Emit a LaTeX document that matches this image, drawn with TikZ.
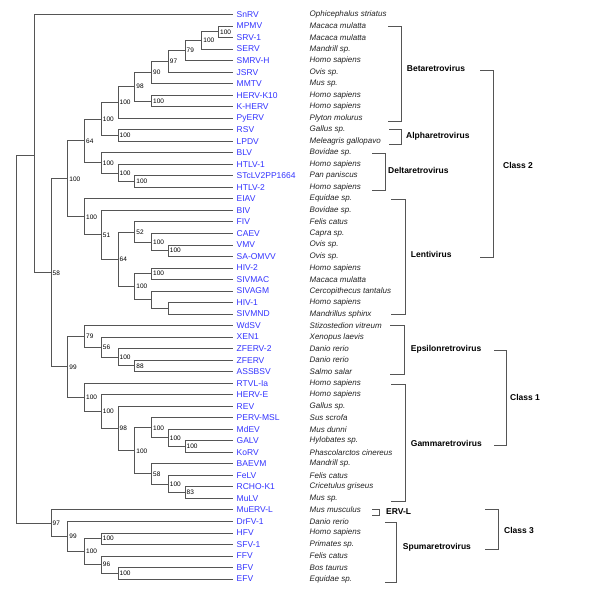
\documentclass[tikz,border=0pt]{standalone}
\usepackage{fontspec}
\setmainfont{Liberation Sans}
\definecolor{nameblue}{HTML}{3333FF}
\definecolor{treegrey}{HTML}{555555}
\definecolor{spgrey}{HTML}{222222}
\tikzset{
  edge/.style={draw=treegrey, line width=0.8pt},
  brk/.style={draw=treegrey, line width=0.8pt},
  boot/.style={anchor=west, inner sep=0pt, xshift=1.5pt, font=\fontsize{6.5}{7}\selectfont, text=black},
  lname/.style={anchor=west, inner sep=0pt, font=\fontsize{8.5}{9}\selectfont, text=nameblue},
  spec/.style={anchor=west, inner sep=0pt, font=\fontsize{8}{9}\selectfont\itshape, text=spgrey},
  grp/.style={anchor=west, inner sep=0pt, font=\fontsize{8.5}{10}\selectfont\bfseries, text=black}
}
\newcommand\IN[4]{\coordinate (#1) at ({17.5+16.75*#2},{14.5+11.52*#3}); \node[boot] (#1-b) at (#1) {#4};}
\newcommand\INn[3]{\coordinate (#1) at ({17.5+16.75*#2},{14.5+11.52*#3});}
\newcommand\LF[4]{\coordinate (#1) at (233,{14.5+11.52*#2}); \node[lname] (#1-n) at (236.5,{14.5+11.52*#2}) {#3}; \node[spec] (#1-s) at (309.5,{14.5+11.52*#2}) {#4};}
\newcommand\EG[2]{\draw[edge] (#1) |- (#2);}
\newcommand\BRK[4]{\draw[brk] (#1,#3) -- (#2,#3) -- (#2,#4) -- (#1,#4);}
\begin{document}
\begin{tikzpicture}[x=1pt,y=-1pt]
\useasboundingbox (0,0) rectangle (594,600);
% leaves
\LF{l0}{0}{SnRV}{Ophicephalus striatus}
\LF{l1}{1}{MPMV}{Macaca mulatta}
\LF{l2}{2}{SRV-1}{Macaca mulatta}
\LF{l3}{3}{SERV}{Mandrill sp.}
\LF{l4}{4}{SMRV-H}{Homo sapiens}
\LF{l5}{5}{JSRV}{Ovis sp.}
\LF{l6}{6}{MMTV}{Mus sp.}
\LF{l7}{7}{HERV-K10}{Homo sapiens}
\LF{l8}{8}{K-HERV}{Homo sapiens}
\LF{l9}{9}{PyERV}{Plyton molurus}
\LF{l10}{10}{RSV}{Gallus sp.}
\LF{l11}{11}{LPDV}{Meleagris gallopavo}
\LF{l12}{12}{BLV}{Bovidae sp.}
\LF{l13}{13}{HTLV-1}{Homo sapiens}
\LF{l14}{14}{STcLV2PP1664}{Pan paniscus}
\LF{l15}{15}{HTLV-2}{Homo sapiens}
\LF{l16}{16}{EIAV}{Equidae sp.}
\LF{l17}{17}{BIV}{Bovidae sp.}
\LF{l18}{18}{FIV}{Felis catus}
\LF{l19}{19}{CAEV}{Capra sp.}
\LF{l20}{20}{VMV}{Ovis sp.}
\LF{l21}{21}{SA-OMVV}{Ovis sp.}
\LF{l22}{22}{HIV-2}{Homo sapiens}
\LF{l23}{23}{SIVMAC}{Macaca mulatta}
\LF{l24}{24}{SIVAGM}{Cercopithecus tantalus}
\LF{l25}{25}{HIV-1}{Homo sapiens}
\LF{l26}{26}{SIVMND}{Mandrillus sphinx}
\LF{l27}{27}{WdSV}{Stizostedion vitreum}
\LF{l28}{28}{XEN1}{Xenopus laevis}
\LF{l29}{29}{ZFERV-2}{Danio rerio}
\LF{l30}{30}{ZFERV}{Danio rerio}
\LF{l31}{31}{ASSBSV}{Salmo salar}
\LF{l32}{32}{RTVL-Ia}{Homo sapiens}
\LF{l33}{33}{HERV-E}{Homo sapiens}
\LF{l34}{34}{REV}{Gallus sp.}
\LF{l35}{35}{PERV-MSL}{Sus scrofa}
\LF{l36}{36}{MdEV}{Mus dunni}
\LF{l37}{37}{GALV}{Hylobates sp.}
\LF{l38}{38}{KoRV}{Phascolarctos cinereus}
\LF{l39}{39}{BAEVM}{Mandrill sp.}
\LF{l40}{40}{FeLV}{Felis catus}
\LF{l41}{41}{RCHO-K1}{Cricetulus griseus}
\LF{l42}{42}{MuLV}{Mus sp.}
\LF{l43}{43}{MuERV-L}{Mus musculus}
\LF{l44}{44}{DrFV-1}{Danio rerio}
\LF{l45}{45}{HFV}{Homo sapiens}
\LF{l46}{46}{SFV-1}{Primates sp.}
\LF{l47}{47}{FFV}{Felis catus}
\LF{l48}{48}{BFV}{Bos taurus}
\LF{l49}{49}{EFV}{Equidae sp.}
% internal nodes
\IN{L}{12}{1.5}{100}
\IN{K}{11}{2.25}{100}
\IN{J}{10}{3.125}{79}
\IN{I}{9}{4.0625}{97}
\IN{H}{8}{5.03125}{90}
\IN{M}{8}{7.5}{100}
\IN{G}{7}{6.265625}{98}
\IN{F}{6}{7.6328125}{100}
\IN{N}{6}{10.5}{100}
\IN{E}{5}{9.06640625}{100}
\IN{Q}{7}{14.5}{100}
\IN{P}{6}{13.75}{100}
\IN{O}{5}{12.875}{100}
\IN{D}{4}{10.9707}{64}
\IN{W}{9}{20.5}{100}
\IN{V}{8}{19.75}{100}
\IN{U}{7}{18.875}{52}
\IN{Y}{8}{22.5}{100}
\INn{AA}{9}{25.5}
\INn{Z}{8}{24.75}
\IN{X}{7}{23.625}{100}
\IN{T}{6}{21.25}{64}
\IN{S}{5}{19.125}{51}
\IN{R}{4}{17.5625}{100}
\IN{C}{3}{14.2666}{100}
\IN{e4}{7}{30.5}{88}
\IN{e3}{6}{29.75}{100}
\IN{e2}{5}{28.875}{56}
\IN{Eps}{4}{27.9375}{79}
\IN{ga10}{10}{37.5}{100}
\IN{ga9}{9}{36.75}{100}
\IN{ga8}{8}{35.875}{100}
\IN{gb10}{10}{41.5}{83}
\IN{gb9}{9}{40.75}{100}
\IN{gb8}{8}{39.875}{58}
\IN{g7}{7}{37.875}{100}
\IN{g6}{6}{35.9375}{98}
\IN{g5}{5}{34.46875}{100}
\IN{Gam}{4}{33.234375}{100}
\IN{C1}{3}{30.5859}{99}
\IN{B}{2}{22.4263}{58}
\coordinate (A) at ({17.5+16.75*1},155);
\IN{s6}{6}{48.5}{100}
\IN{s5b}{5}{47.75}{96}
\IN{s5a}{5}{45.5}{100}
\IN{s4}{4}{46.625}{100}
\IN{s3}{3}{45.3125}{99}
\IN{C3}{2}{44.15625}{97}
\coordinate (root) at (16,339);
% edges
\EG{root}{A}\EG{root}{C3}
\EG{A}{l0}\EG{A}{B}
\EG{B}{C}\EG{B}{C1}
\EG{C}{D}\EG{C}{R}
\EG{D}{E}\EG{D}{O}
\EG{E}{F}\EG{E}{N}
\EG{F}{G}\EG{F}{l9}
\EG{G}{H}\EG{G}{M}
\EG{H}{I}\EG{H}{l6}
\EG{I}{J}\EG{I}{l5}
\EG{J}{K}\EG{J}{l4}
\EG{K}{L}\EG{K}{l3}
\EG{L}{l1}\EG{L}{l2}
\EG{M}{l7}\EG{M}{l8}
\EG{N}{l10}\EG{N}{l11}
\EG{O}{l12}\EG{O}{P}
\EG{P}{l13}\EG{P}{Q}
\EG{Q}{l14}\EG{Q}{l15}
\EG{R}{l16}\EG{R}{S}
\EG{S}{l17}\EG{S}{T}
\EG{T}{U}\EG{T}{X}
\EG{U}{l18}\EG{U}{V}
\EG{V}{l19}\EG{V}{W}
\EG{W}{l20}\EG{W}{l21}
\EG{X}{Y}\EG{X}{Z}
\EG{Y}{l22}\EG{Y}{l23}
\EG{Z}{l24}\EG{Z}{AA}
\EG{AA}{l25}\EG{AA}{l26}
\EG{C1}{Eps}\EG{C1}{Gam}
\EG{Eps}{l27}\EG{Eps}{e2}
\EG{e2}{l28}\EG{e2}{e3}
\EG{e3}{l29}\EG{e3}{e4}
\EG{e4}{l30}\EG{e4}{l31}
\EG{Gam}{l32}\EG{Gam}{g5}
\EG{g5}{l33}\EG{g5}{g6}
\EG{g6}{l34}\EG{g6}{g7}
\EG{g7}{ga8}\EG{g7}{gb8}
\EG{ga8}{l35}\EG{ga8}{ga9}
\EG{ga9}{l36}\EG{ga9}{ga10}
\EG{ga10}{l37}\EG{ga10}{l38}
\EG{gb8}{l39}\EG{gb8}{gb9}
\EG{gb9}{l40}\EG{gb9}{gb10}
\EG{gb10}{l41}\EG{gb10}{l42}
\EG{C3}{l43}\EG{C3}{s3}
\EG{s3}{l44}\EG{s3}{s4}
\EG{s4}{s5a}\EG{s4}{s5b}
\EG{s5a}{l45}\EG{s5a}{l46}
\EG{s5b}{l47}\EG{s5b}{s6}
\EG{s6}{l48}\EG{s6}{l49}
% group brackets
\BRK{388}{401}{26}{121}
\BRK{389}{401}{129.5}{144}
\BRK{372}{385}{153}{190.5}
\BRK{391}{405.5}{199}{314.5}
\BRK{390}{404.5}{325.5}{374}
\BRK{391}{405}{384}{501.5}
\BRK{372}{379}{509.5}{515.5}
\BRK{385}{396}{522.5}{582}
\BRK{480}{493.5}{70}{257}
\BRK{494}{506}{350}{445}
\BRK{485}{498.5}{509.5}{549}
% group labels
\node[grp] (gBeta) at (406.7,68.3) {Betaretrovirus};
\node[grp] (gAlpha) at (406,136) {Alpharetrovirus};
\node[grp] (gDelta) at (388,170.7) {Deltaretrovirus};
\node[grp] (gLenti) at (410.7,254.3) {Lentivirus};
\node[grp] (gEps) at (410.7,349.3) {Epsilonretrovirus};
\node[grp] (gGam) at (410.7,443.3) {Gammaretrovirus};
\node[grp] (gErvl) at (386,511.7) {ERV-L};
\node[grp] (gSpuma) at (402.7,547.3) {Spumaretrovirus};
\node[grp] (gC2) at (503,165) {Class 2};
\node[grp] (gC1) at (510,397.7) {Class 1};
\node[grp] (gC3) at (504,530) {Class 3};
\end{tikzpicture}
\end{document}
